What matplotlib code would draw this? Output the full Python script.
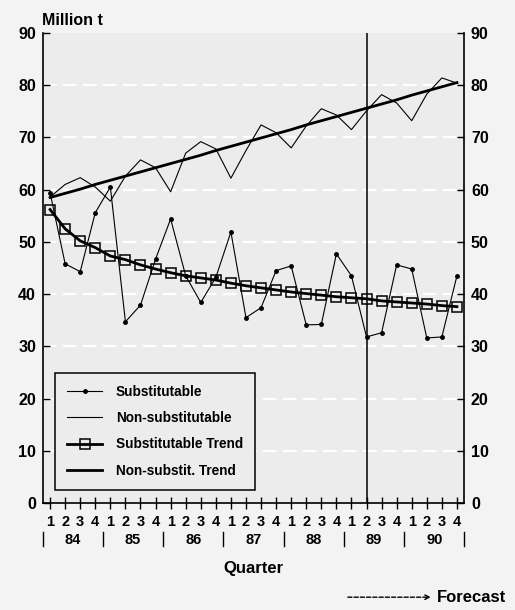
import matplotlib
matplotlib.use("Agg")
import matplotlib.pyplot as plt
import matplotlib.transforms as mtransforms
import numpy as np

plt.rcParams['font.family'] = ['Liberation Sans', 'DejaVu Sans']
plt.rcParams['font.weight'] = 'bold'

# data, 1984Q1 .. 1990Q4
years = ['84', '85', '86', '87', '88', '89', '90']
quarters = ['1', '2', '3', '4']

substitutable = [59.4, 45.8, 44.3, 55.6, 60.5, 34.7, 37.9, 46.7,
                 54.4, 43.5, 38.4, 43.2, 51.9, 35.5, 37.4, 44.5,
                 45.4, 34.1, 34.2, 47.7, 43.5, 31.8, 32.6, 45.6,
                 44.8, 31.6, 31.8, 43.5]
non_substitutable = [58.6, 61.0, 62.3, 60.5, 57.8, 62.6, 65.7, 64.2,
                     59.6, 67.0, 69.2, 67.8, 62.2, 67.5, 72.4, 70.9,
                     68.0, 72.2, 75.5, 74.3, 71.5, 75.1, 78.2, 76.6,
                     73.2, 78.3, 81.4, 80.4]
sub_trend = [56.2, 52.5, 50.2, 48.9, 47.3, 46.6, 45.6, 44.8,
             44.1, 43.5, 43.1, 42.7, 42.1, 41.6, 41.2, 40.8,
             40.4, 40.1, 39.8, 39.5, 39.3, 39.1, 38.7, 38.5,
             38.3, 38.1, 37.8, 37.6]
nonsub_trend = [58.5, 59.3, 60.1, 61.0, 61.8, 62.6, 63.4, 64.2,
                65.0, 65.8, 66.6, 67.5, 68.3, 69.1, 69.9, 70.7,
                71.5, 72.4, 73.2, 74.0, 74.8, 75.6, 76.4, 77.2,
                78.1, 78.9, 79.7, 80.5]
forecast_start = 21  # 1989 Q2

x = np.arange(len(substitutable))

fig = plt.figure(figsize=(5.15, 6.1), dpi=100, facecolor='#f3f3f3')
ax = fig.add_axes([0.0835, 0.1754, 0.8175, 0.7705], facecolor='#ececec')

# white dashed grid
for v in range(10, 90, 10):
    ax.axhline(v, color='white', lw=1.6, ls=(0, (6, 3)), zorder=0)

ax.axvline(forecast_start, color='black', lw=1.1, zorder=1)

ax.plot(x, substitutable, color='black', lw=0.8, marker='o', ms=2.5,
        label='Substitutable', zorder=3)
ax.plot(x, non_substitutable, color='black', lw=0.8,
        label='Non-substitutable', zorder=3)
ax.plot(x, sub_trend, color='black', lw=2, marker='s', ms=6.5,
        mfc='none', mew=1.1, label='Substitutable Trend', zorder=4)
ax.plot(x, nonsub_trend, color='black', lw=2,
        label='Non-substit. Trend', zorder=4)

ax.set_xlim(-0.47, len(x) - 0.53)
ax.set_ylim(0, 90)

ax.spines['top'].set_visible(False)
for s in ['left', 'right', 'bottom']:
    ax.spines[s].set_linewidth(1.2)

ax.set_yticks(np.arange(0, 91, 10))
ax.tick_params(axis='y', direction='in', length=5, width=1, labelsize=11.5,
               right=True, labelright=True, pad=5)
ax.set_xticks(x)
ax.set_xticklabels([quarters[i % 4] for i in x])
ax.tick_params(axis='x', direction='inout', length=9, width=1,
               labelsize=10.5, pad=4)
for lab in ax.get_xticklabels() + ax.get_yticklabels():
    lab.set_fontweight('bold')

# year labels and separators below the axis
trans = mtransforms.blended_transform_factory(ax.transData, ax.transAxes)
for k, yr in enumerate(years):
    ax.text(4 * k + 1.5, -0.078, yr, transform=trans, ha='center',
            va='center', fontsize=10.5, fontweight='bold')
for k in range(len(years) + 1):
    ax.plot([4 * k - 0.5, 4 * k - 0.5], [-0.062, -0.092], transform=trans,
            color='black', lw=1, clip_on=False)

ax.text(0.5, -0.14, 'Quarter', transform=ax.transAxes, ha='center',
        va='center', fontsize=12, fontweight='bold')
fig.text(0.082, 0.966, 'Million t', ha='left', va='center', fontsize=11.5,
         fontweight='bold')

leg = ax.legend(loc='lower left', bbox_to_anchor=(0.028, 0.028),
                fontsize=9.8, frameon=True, fancybox=False,
                edgecolor='black', facecolor='#ececec', framealpha=1,
                handlelength=2.6, handletextpad=1.0, borderpad=0.9,
                labelspacing=0.9, borderaxespad=0)
leg.get_frame().set_linewidth(1.1)
for t in leg.get_texts():
    t.set_fontweight('bold')

# forecast arrow note
fig.text(0.848, 0.021, 'Forecast', ha='left', va='center', fontsize=12,
         fontweight='bold')
fig.add_artist(matplotlib.patches.FancyArrowPatch(
    (0.67, 0.021), (0.842, 0.021), transform=fig.transFigure,
    arrowstyle='->', mutation_scale=8, color='black', lw=1,
    linestyle=(0, (3, 1.5))))

fig.savefig('out.png', dpi=100, facecolor=fig.get_facecolor())
